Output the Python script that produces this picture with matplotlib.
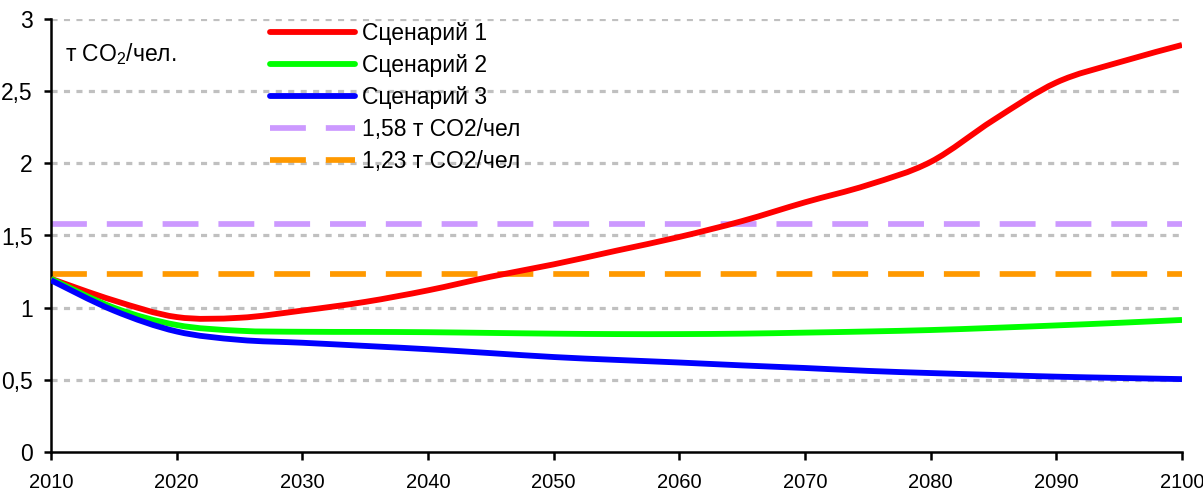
import matplotlib
matplotlib.use("Agg")
import matplotlib.pyplot as plt
from matplotlib.path import Path
from matplotlib.patches import PathPatch
from matplotlib.lines import Line2D
import numpy as np

plt.rcParams['font.family'] = ['Liberation Sans', 'DejaVu Sans']
plt.rcParams['mathtext.fontset'] = 'custom'
plt.rcParams['mathtext.rm'] = 'Liberation Sans'
plt.rcParams['mathtext.it'] = 'Liberation Sans'

years = [2010, 2015, 2020, 2025, 2030, 2035, 2040, 2045, 2050, 2055,
         2060, 2065, 2070, 2075, 2080, 2085, 2090, 2095, 2100]
scenario1 = [1.20, 1.05, 0.935, 0.93, 0.98, 1.04, 1.12, 1.215, 1.30, 1.395,
             1.49, 1.60, 1.73, 1.85, 2.01, 2.30, 2.56, 2.70, 2.82]
scenario2 = [1.20, 1.00, 0.88, 0.84, 0.833, 0.832, 0.83, 0.825, 0.82, 0.817,
             0.817, 0.82, 0.827, 0.835, 0.845, 0.86, 0.877, 0.895, 0.915]
scenario3 = [1.19, 0.98, 0.835, 0.777, 0.757, 0.735, 0.712, 0.685, 0.658, 0.638,
             0.62, 0.60, 0.582, 0.562, 0.547, 0.534, 0.522, 0.513, 0.505]
limit_high = 1.58
limit_low = 1.23

series_labels = ['Сценарий 1', 'Сценарий 2', 'Сценарий 3']
limit_labels = ['1,58 т CO2/чел', '1,23 т CO2/чел']
series_colors = ['#ff0000', '#00ff00', '#0000ff']
limit_colors = ['#cc99ff', '#ff9900']

x_ticks = list(range(2010, 2101, 10))
y_ticks = [0, 0.5, 1, 1.5, 2, 2.5, 3]
y_tick_labels = ['0', '0,5', '1', '1,5', '2', '2,5', '3']


def smooth_path(xs, ys):
    """Catmull-Rom style smoothed polyline as a cubic Bezier path."""
    pts = np.column_stack([xs, ys]).astype(float)
    n = len(pts)
    verts = [pts[0]]
    codes = [Path.MOVETO]
    for i in range(n - 1):
        p0 = pts[i - 1] if i > 0 else pts[i]
        p1 = pts[i]
        p2 = pts[i + 1]
        p3 = pts[i + 2] if i + 2 < n else pts[i + 1]
        c1 = p1 + (p2 - p0) / 6.0
        c2 = p2 - (p3 - p1) / 6.0
        verts += [c1, c2, p2]
        codes += [Path.CURVE4] * 3
    return Path(verts, codes)


fig = plt.figure(figsize=(12.03, 4.90), dpi=100)
ax = fig.add_axes([51 / 1203, 38 / 490, 1131 / 1203, 433 / 490])

ax.set_xlim(2010, 2100)
ax.set_ylim(0, 3)

# horizontal grid
for yv in y_ticks[1:]:
    ax.axhline(yv, color='#c0c0c0', lw=2.3, dashes=(1.9, 2.0), zorder=1)

dash_lw = 4.1
for val, col in zip([limit_high, limit_low], limit_colors):
    ax.axhline(val, color=col, lw=dash_lw, dashes=(6.3, 3.5), zorder=2,
               solid_capstyle='butt', dash_capstyle='butt')

line_lw = 4.2
for vals, col in zip([scenario1, scenario2, scenario3], series_colors):
    patch = PathPatch(smooth_path(years, vals), facecolor='none', edgecolor=col,
                      lw=line_lw, zorder=3, capstyle='butt', joinstyle='round')
    ax.add_patch(patch)

for side in ['top', 'right']:
    ax.spines[side].set_visible(False)
for side in ['left', 'bottom']:
    ax.spines[side].set_linewidth(1.8)
    ax.spines[side].set_color('black')

ax.set_xticks(x_ticks)
ax.set_xticklabels([str(v) for v in x_ticks], fontsize=14.5)
ax.set_yticks(y_ticks)
ax.set_yticklabels(y_tick_labels, fontsize=16.5)
ax.tick_params(axis='x', direction='out', length=6, width=1.8, pad=9)
ax.tick_params(axis='y', direction='out', length=5, width=1.8, pad=8)

ax.text(2011.1, 2.76, 'т CO$_2$/чел.', fontsize=16.5, ha='left', va='center')

handles = [Line2D([], [], color=c, lw=line_lw, solid_capstyle='round') for c in series_colors]
handles += [Line2D([], [], color=c, lw=dash_lw, dashes=(6.3, 3.5), dash_capstyle='butt')
            for c in limit_colors]
leg = ax.legend(handles, series_labels + limit_labels, loc='upper left',
                bbox_to_anchor=(219 / 1131, 0.993), frameon=False, fontsize=16.5,
                handlelength=3.7, handletextpad=0.3, labelspacing=0.39,
                borderpad=0.0, borderaxespad=0.0)

fig.savefig('out.png', dpi=100)
